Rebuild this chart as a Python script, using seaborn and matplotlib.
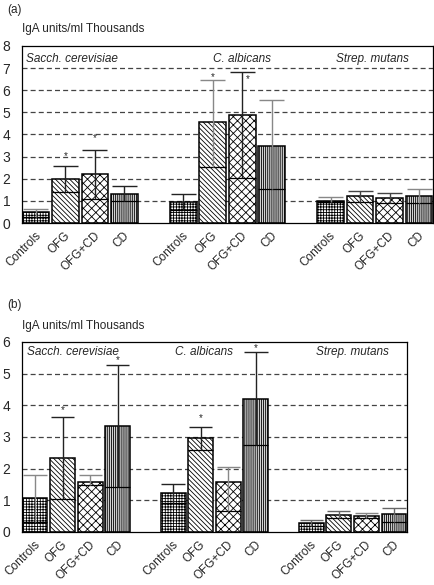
import matplotlib
matplotlib.use('Agg')
import matplotlib.pyplot as plt
import matplotlib.transforms as mtransforms
import seaborn as sns
import pandas as pd
import numpy as np

# groups / bars
organisms = ['Sacch. cerevisiae', 'C. albicans', 'Strep. mutans']
patients = ['Controls', 'OFG', 'OFG+CD', 'CD']

# panel (a) values (thousands of IgA units/ml)
mean_a = [0.48, 1.97, 2.20, 1.33, 0.96, 4.55, 4.88, 3.49, 1.01, 1.24, 1.12, 1.22]
median_a = [0.28, 1.39, 1.08, 1.00, 0.60, 2.53, 2.05, 1.52, 0.95, 0.96, 0.90, 0.90]
upper_a = [0.63, 2.59, 3.32, 1.66, 1.31, 6.45, 6.84, 5.56, 1.19, 1.46, 1.34, 1.52]
star_a = [1, 2, 5, 6]

# panel (b)
mean_b = [1.06, 2.35, 1.59, 3.35, 1.22, 2.96, 1.57, 4.20, 0.28, 0.55, 0.50, 0.56]
median_b = [0.30, 1.03, 1.48, 1.43, 0.91, 2.59, 0.67, 2.75, 0.20, 0.45, 0.45, 0.31]
upper_b = [1.80, 3.64, 1.80, 5.27, 1.52, 3.31, 2.06, 5.67, 0.37, 0.65, 0.59, 0.77]
star_b = [1, 3, 5, 7]

# styling
hatches = ['++++++', '\\\\\\\\\\\\\\', 'xxxx', '||||||||']
faces = ['white', 'white', 'white', '#d4d4d4']
err_col_a = ['#888', '#222', '#222', '#222', '#222', '#888', '#222', '#888',
             '#888', '#444', '#444', '#888']
err_col_b = ['#888', '#222', '#888', '#222', '#222', '#222', '#888', '#222',
             '#666', '#666', '#888', '#666']
# star offsets (points) relative to the top of the whisker
star_off_a = {1: (0, 3.3), 2: (0, 4.7), 5: (0, -1.0), 6: (4, -9)}
star_off_b = {1: (0, 0.9), 3: (0, -0.3), 5: (0, 3.3), 7: (0, -0.6)}

sns.set_style('white')
plt.rcParams['font.family'] = ['Liberation Sans', 'DejaVu Sans']
plt.rcParams['hatch.linewidth'] = 0.6

# categorical order with blank spacer slots between organism groups
order = []
for gi, org in enumerate(organisms):
    if gi > 0:
        order.append('gap%d' % gi)
    for p in patients:
        order.append(org + '|' + p)
bar_keys = [o + '|' + p for o in organisms for p in patients]
bar_pos = [order.index(k) for k in bar_keys]


def draw_panel(ax, means, medians, uppers, stars, err_cols, ymax, label_pos, star_off):
    df = pd.DataFrame({'key': bar_keys, 'value': means})
    sns.barplot(data=df, x='key', y='value', order=order, ax=ax,
                color='white', saturation=1, width=0.9, errorbar=None,
                edgecolor='black', linewidth=1.1, zorder=2)
    patches = sorted(ax.patches, key=lambda p: p.get_x())
    for i, p in enumerate(patches):
        j = i % 4
        p.set_hatch(hatches[j])
        p.set_facecolor(faces[j])
        p.set_edgecolor('black')
    # median line across bar, whisker from median up to upper value
    for i, p in enumerate(patches):
        x0 = p.get_x()
        w = p.get_width()
        xc = x0 + w / 2
        ax.hlines(medians[i], x0, x0 + w, color='black', lw=0.9, zorder=4)
        ax.vlines(xc, medians[i], uppers[i], color=err_cols[i], lw=1.0, zorder=4)
        ax.hlines(uppers[i], x0 + 0.03, x0 + w - 0.03, color=err_cols[i], lw=1.0, zorder=4)
        if i in stars:
            dx, dy = star_off[i]
            ax.annotate('*', (xc, uppers[i]), xytext=(dx, dy), textcoords='offset points',
                        ha='center', va='bottom', fontsize=7)
    ax.set_xlim(-0.47, len(order) - 0.53)
    ax.set_ylim(0, ymax)
    ax.set_yticks(range(0, ymax + 1))
    ax.set_yticklabels([str(v) for v in range(0, ymax + 1)], fontsize=10)
    for v in range(1, ymax):
        ax.axhline(v, color='#444', lw=0.9, ls=(0, (4, 2.5)), zorder=1)
    # rotated category labels under each bar
    ax.set_xticks(bar_pos)
    ax.set_xticklabels([])
    trans = mtransforms.blended_transform_factory(ax.transData, ax.transAxes)
    trans = trans + mtransforms.ScaledTranslation(-0.8 / 72, -5.0 / 72, ax.figure.dpi_scale_trans)
    for xp, lab in zip(bar_pos, patients * 3):
        ax.text(xp, 0, lab, transform=trans, rotation=45, ha='right', va='top',
                rotation_mode='anchor', fontsize=8.5, clip_on=False)
    ax.tick_params(axis='x', length=0, pad=4)
    ax.tick_params(axis='y', length=0, pad=8.5)
    ax.set_xlabel('')
    ax.set_ylabel('')
    for s in ax.spines.values():
        s.set_visible(True)
        s.set_color('black')
        s.set_linewidth(0.9)
    for name, (xp, yp, ha) in zip(organisms, label_pos):
        ax.text(xp, yp, name, style='italic', fontsize=8.5, ha=ha, va='center', zorder=5)


fig = plt.figure(figsize=(4.35, 5.85), dpi=100)
ax_a = fig.add_axes([0.0506, 0.6188, 0.9448, 0.3026])
ax_b = fig.add_axes([0.0506, 0.0906, 0.8850, 0.3248])

draw_panel(ax_a, mean_a, median_a, upper_a, star_a, err_col_a, 8,
           [(-0.32, 7.4, 'left'), (6.98, 7.4, 'center'), (11.4, 7.4, 'center')],
           star_off_a)
draw_panel(ax_b, mean_b, median_b, upper_b, star_b, err_col_b, 6,
           [(-0.3, 5.67, 'left'), (6.12, 5.67, 'center'), (11.5, 5.67, 'center')],
           star_off_b)

fig.text(15 / 435, 1 - 10 / 585, '(a)', fontsize=8.5, ha='center', va='center')
fig.text(22 / 435, 1 - 29 / 585, 'IgA units/ml Thousands', fontsize=8.5, ha='left', va='center')
fig.text(15 / 435, 1 - 305 / 585, '(b)', fontsize=8.5, ha='center', va='center')
fig.text(22 / 435, 1 - 326 / 585, 'IgA units/ml Thousands', fontsize=8.5, ha='left', va='center')

fig.savefig('out.png', dpi=100)
